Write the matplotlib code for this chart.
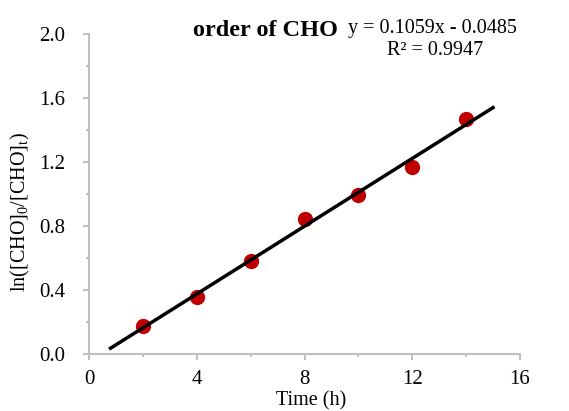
import numpy as np
import matplotlib
matplotlib.use("Agg")
import matplotlib.pyplot as plt
from matplotlib.ticker import MultipleLocator, FormatStrFormatter

# data
time_h = [2, 4, 6, 8, 10, 12, 14]
ln_ratio = [0.175, 0.355, 0.58, 0.845, 0.995, 1.17, 1.47]
slope, intercept = 0.1059, -0.0485
fit_x = [0.8, 15.0]

plt.rcParams['font.family'] = ['Liberation Serif', 'DejaVu Serif']
plt.rcParams['mathtext.fontset'] = 'custom'
plt.rcParams['mathtext.rm'] = 'Liberation Serif'
plt.rcParams['mathtext.it'] = 'Liberation Serif:italic'

W, H = 569, 411
fig = plt.figure(figsize=(W / 100, H / 100), dpi=100)
# axes box in pixels: x 89..520, y 34..354
ax = fig.add_axes([89 / W, 1 - 354 / H, 431 / W, 320 / H])

ax.scatter(time_h, ln_ratio, s=100, color='#c00000', zorder=2)
fx = np.array(fit_x)
ax.plot(fx, slope * fx + intercept, color='black', lw=2.5, zorder=3)

ax.set_xlim(0, 16)
ax.set_ylim(0, 2.0)
ax.xaxis.set_major_locator(MultipleLocator(4))
ax.xaxis.set_minor_locator(MultipleLocator(2))
ax.yaxis.set_major_locator(MultipleLocator(0.4))
ax.yaxis.set_minor_locator(MultipleLocator(0.2))
ax.yaxis.set_major_formatter(FormatStrFormatter('%.1f'))

for s in ['top', 'right']:
    ax.spines[s].set_visible(False)
for s in ['left', 'bottom']:
    ax.spines[s].set_color('#c0c0c0')
    ax.spines[s].set_linewidth(1.5)
ax.tick_params(which='major', length=4.5, width=1.5, color='#c0c0c0', labelsize=15)
ax.tick_params(which='minor', length=2.5, width=1.5, color='#c0c0c0')
ax.tick_params(axis='x', which='major', pad=7)
ax.tick_params(axis='y', which='major', pad=12.5)

# axis titles placed where the reference has them
fig.text(311 / W, 1 - 405 / H, 'Time (h)', fontsize=14.5, ha='center', va='baseline')
fig.text(20 / W, 1 - 212 / H, r'ln([CHO]$_\mathrm{0}$/[CHO]$_\mathrm{t}$)', fontsize=14.5,
         rotation=90, ha='center', va='center')

fig.text(265 / W, 1 - 36 / H, 'order of CHO', fontsize=17.5, fontweight='bold',
         ha='center', va='baseline')
fig.text(432 / W, 1 - 33 / H, 'y = 0.1059x - 0.0485', fontsize=14.5,
         ha='center', va='baseline')
fig.text(435 / W, 1 - 55 / H, 'R² = 0.9947', fontsize=14.5, ha='center', va='baseline')

fig.savefig('out.png', dpi=100)
